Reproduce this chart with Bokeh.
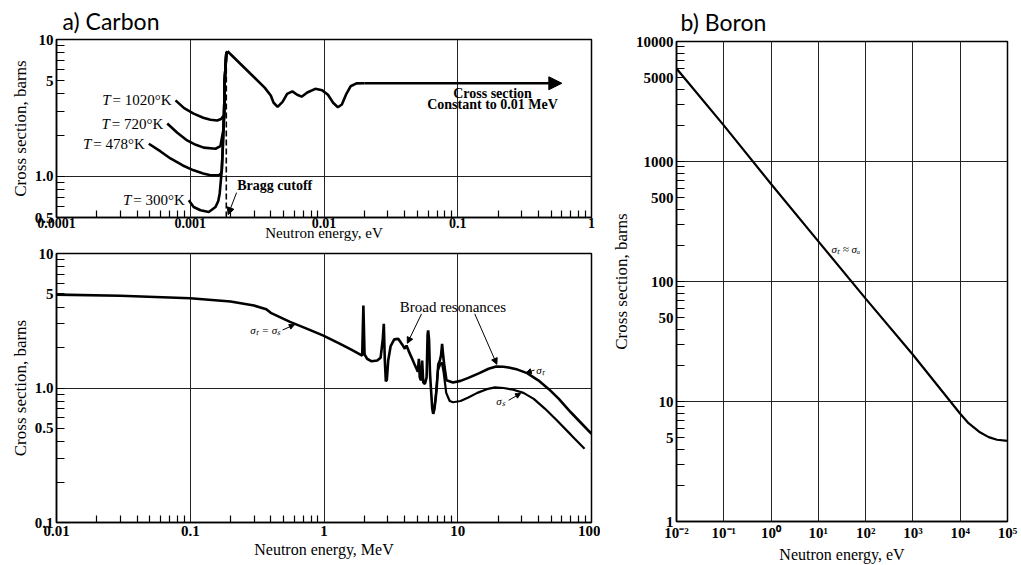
from bokeh.plotting import figure
from bokeh.models import Range1d, FixedTicker, Arrow, NormalHead
from bokeh.layouts import row, column
from bokeh.embed import file_html
from bokeh.resources import INLINE
from bokeh.core.properties import value

SERIF = "Liberation Serif"

# ---------------- Data: a) Carbon, thermal region (eV) ----------------
temp_labels = ["1020°K", "720°K", "478°K", "300°K"]
t1020_e = [0.000776, 0.00090, 0.00106, 0.00125, 0.001417, 0.00159, 0.00170]
t1020_s = [3.59, 3.15, 2.87, 2.68, 2.59, 2.56, 2.62]
t720_e = [0.000673, 0.00080, 0.000948, 0.00110, 0.00126, 0.001545, 0.00168]
t720_s = [2.43, 2.08, 1.83, 1.70, 1.62, 1.59, 1.66]
t478_e = [0.00049, 0.00060, 0.000711, 0.00088, 0.00106, 0.00125, 0.001417, 0.001635, 0.00170]
t478_s = [1.73, 1.52, 1.35, 1.20, 1.106, 1.05, 1.017, 1.017, 1.05]
t300_e = [0.000975, 0.00106, 0.001193, 0.001376, 0.001545, 0.00162]
t300_s = [0.668, 0.597, 0.565, 0.549, 0.597, 0.66]
rise_e = [0.00166, 0.00172, 0.00175, 0.00177, 0.00179, 0.00181, 0.00186, 0.0019]
rise_s = [0.75, 1.1, 1.6, 2.2, 2.8, 5.0, 7.9, 8.2]
main_e = [0.0019, 0.0036, 0.0040, 0.0042, 0.0045, 0.0049, 0.0053, 0.0058, 0.0063,
          0.0068, 0.0075, 0.0086, 0.0097, 0.0107, 0.0117, 0.0127, 0.0136, 0.0146,
          0.0158, 0.0175, 0.020, 0.60]
main_s = [8.2, 4.45, 3.9, 3.45, 3.22, 3.5, 4.0, 4.18, 3.95, 3.82, 4.1, 4.36, 4.25,
          3.95, 3.45, 3.2, 3.35, 3.95, 4.55, 4.78, 4.79, 4.79]
bragg_e = 0.00186
bragg_top = 7.6

# ---------------- Data: a) Carbon, fast region (MeV) ----------------
st_e = [0.01, 0.03, 0.1, 0.2, 0.3, 0.37, 0.40, 0.557, 0.75, 0.99, 1.32, 1.6, 1.93,
        1.97, 2.01, 2.1, 2.27, 2.5, 2.65, 2.75, 2.80, 2.85, 2.90, 2.95, 3.02, 3.15,
        3.35, 3.59, 3.85, 4.02, 4.14, 4.3, 4.51, 4.75, 4.92, 5.03, 5.12, 5.2, 5.3,
        5.42, 5.52, 5.68, 5.85, 5.95, 6.01, 6.1, 6.2, 6.3, 6.45, 6.55, 6.7, 6.94,
        7.15, 7.35, 7.5, 7.64, 7.8, 7.95, 8.24, 9.2, 10.5, 12.0, 14.5, 17.0, 19.4,
        22.0, 25.0, 28.0, 33.0, 40.0, 48.0, 57.0, 70.0, 85.0, 100.0]
st_s = [4.95, 4.85, 4.65, 4.4, 4.1, 3.85, 3.62, 3.1, 2.75, 2.45, 2.13, 1.93, 1.74,
        4.1, 1.78, 1.65, 1.58, 1.6, 1.68, 2.3, 3.0, 1.6, 1.12, 1.15, 1.6, 2.05,
        2.3, 2.32, 2.1, 1.96, 2.07, 1.88, 1.69, 1.5, 1.39, 1.32, 1.65, 1.2, 1.14,
        1.6, 1.1, 1.07, 1.2, 2.5, 2.68, 2.3, 1.3, 1.0, 0.7, 0.643, 0.7, 0.96,
        1.5, 1.6, 1.75, 2.13, 1.7, 1.45, 1.14, 1.10, 1.13, 1.19, 1.29, 1.39, 1.445,
        1.44, 1.41, 1.37, 1.29, 1.14, 0.98, 0.83, 0.66, 0.54, 0.456]
ss_e = [6.55, 6.8, 7.1, 7.4, 7.6, 7.85, 8.2, 8.7, 9.23, 10.5, 12.0, 14.0, 16.5,
        19.0, 22.0, 26.0, 31.0, 37.0, 45.0, 55.0, 70.0, 88.7]
ss_s = [0.643, 0.8, 1.35, 1.5, 1.55, 1.3, 0.92, 0.8, 0.784, 0.80, 0.85, 0.92,
        0.98, 1.01, 1.0, 0.97, 0.92, 0.83, 0.70, 0.575, 0.45, 0.353]

# ---------------- Data: b) Boron (eV) ----------------
boron_e = [0.01, 0.1, 1, 10, 100, 1000, 10000, 15000, 25000, 40000, 60000, 100000]
boron_s = [5950, 2000, 650, 216, 72, 24.5, 7.9, 6.6, 5.6, 5.05, 4.8, 4.7]

# ---------------- Axis ticks and labels ----------------
top_x_major = [0.0001, 0.001, 0.01, 0.1, 1]
top_x_labels = ["0.0001", "0.001", "0.01", "0.1", "1"]
top_y_major = [0.5, 1, 5, 10]
top_y_labels = ["0.5", "1.0", "5", "10"]
bot_x_major = [0.01, 0.1, 1, 10, 100]
bot_x_labels = ["0.01", "0.1", "1", "10", "100"]
bot_y_major = [0.1, 0.5, 1, 5, 10]
bot_y_labels = ["0.1", "0.5", "1.0", "5", "10"]
bor_x_major = [0.01, 0.1, 1, 10, 100, 1000, 10000, 100000]
bor_x_labels = ["10⁻²", "10⁻¹", "10⁰", "10¹", "10²", "10³", "10⁴", "10⁵"]
bor_y_major = [1, 5, 10, 50, 100, 500, 1000, 5000, 10000]
bor_y_labels = ["1", "5", "10", "50", "100", "500", "1000", "5000", "10000"]


def minors(lo_exp, hi_exp):
    return [m * 10.0 ** k for k in range(lo_exp, hi_exp) for m in range(2, 10)]


def style(p, xmaj, xlab, xmin, ymaj, ylab, ymin, xgrid, ygrid, xminor_len=7):
    p.outline_line_color = "black"
    p.outline_line_width = 1.5
    p.xaxis.ticker = FixedTicker(ticks=xmaj, minor_ticks=xmin)
    p.yaxis.ticker = FixedTicker(ticks=ymaj, minor_ticks=ymin)
    p.xaxis.major_label_overrides = dict(zip(xmaj, xlab))
    p.yaxis.major_label_overrides = dict(zip(ymaj, ylab))
    p.xgrid.ticker = FixedTicker(ticks=xgrid)
    p.ygrid.ticker = FixedTicker(ticks=ygrid)
    for g in (p.xgrid, p.ygrid):
        g.grid_line_color = "#222222"
        g.grid_line_width = 1
        g.grid_line_alpha = 1
    for ax in (p.xaxis, p.yaxis):
        ax.axis_line_color = "black"
        ax.axis_line_width = 1.5
        ax.major_tick_out = 0
        ax.minor_tick_out = 0
        ax.minor_tick_line_color = "black"
        ax.major_tick_line_color = "black"
        ax.minor_tick_line_width = 1.2
        ax.major_label_text_font = SERIF
        ax.major_label_text_font_size = "15px"
        ax.major_label_text_font_style = "bold"
        ax.major_label_text_color = "black"
        ax.axis_label_text_font = SERIF
        ax.axis_label_text_font_size = "16px"
        ax.axis_label_text_font_style = "normal"
        ax.axis_label_text_color = "black"
        ax.major_label_standoff = 3
        ax.axis_label_standoff = 2
    p.yaxis.axis_label_text_font_size = "17px"
    p.xaxis.major_tick_in = 0
    p.xaxis.minor_tick_in = xminor_len
    p.yaxis.major_tick_in = 8
    p.yaxis.minor_tick_in = 8
    p.title.text_font = "Lato"
    p.title.text_font_size = "23px"
    p.title.text_font_style = "normal"
    p.title.text_color = "black"
    p.title.align = "left"
    p.title.standoff = 9


# ---------------- Panel a) top ----------------
p1 = figure(width=600, height=243, x_axis_type="log", y_axis_type="log",
            x_range=Range1d(1e-4, 1), y_range=Range1d(0.5, 10),
            output_backend="svg", toolbar_location=None,
            min_border_left=56, min_border_right=9, min_border_top=39, min_border_bottom=26,
            title="a) Carbon")
style(p1, top_x_major, top_x_labels, minors(-4, 0), top_y_major, top_y_labels,
      [0.6, 0.7, 0.8, 0.9, 2, 3, 4, 6, 7, 8, 9], [0.001, 0.01, 0.1], [1])
p1.title.offset = 6
p1.yaxis.axis_label = "Cross section, barns"
p1.xaxis.axis_label = "Neutron energy, eV"
p1.xaxis.major_label_text_font_size = "14px"
p1.xaxis.axis_label_text_font_size = "15px"
p1.xaxis.major_label_standoff = 0
p1.xaxis.axis_label_standoff = -6

curves = [(t1020_e, t1020_s), (t720_e, t720_s), (t478_e, t478_s), (t300_e, t300_s)]
for (ce, cs) in curves:
    xs = list(ce) + [e for e, s in zip(rise_e, rise_s) if s > cs[-1]]
    ys = list(cs) + [s for s in rise_s if s > cs[-1]]
    p1.line(xs, ys, line_color="black", line_width=2.6)
p1.line(main_e[:-1], main_s[:-1], line_color="black", line_width=2.6)
p1.segment(x0=[bragg_e], y0=[0.5], x1=[bragg_e], y1=[bragg_top],
           line_color="black", line_width=1.6, line_dash="6 3")
p1.add_layout(Arrow(end=NormalHead(size=13, fill_color="black", line_color="black"),
                    x_start=main_e[-2], y_start=main_s[-2], x_end=main_e[-1], y_end=main_s[-1],
                    line_color="black", line_width=2.6))


def char_w(ch, size):
    table = {"=": 0.56, "°": 0.4, "K": 0.72, " ": 0.25}
    return table.get(ch, 0.5) * size


for (ce, cs), lab in zip(curves, temp_labels):
    rest = "= " + lab
    p1.text(x=[ce[0]], y=[cs[0]], text=[rest], x_offset=-4,
            text_font=value(SERIF), text_font_size="15px", text_align="right",
            text_baseline="middle", text_color="black")
    w = sum(char_w(c, 15) for c in rest)
    p1.text(x=[ce[0]], y=[cs[0]], text=["T"], x_offset=-6 - w,
            text_font=value(SERIF), text_font_size="15px", text_font_style="italic",
            text_align="right", text_baseline="middle", text_color="black")

p1.text(x=[0.002244], y=[0.86], text=["Bragg cutoff"], text_font=value(SERIF),
        text_font_size="14px", text_font_style="bold", text_align="left",
        text_baseline="middle", text_color="black")
p1.add_layout(Arrow(end=NormalHead(size=7, fill_color="black", line_color="black"),
                    x_start=0.00222, y_start=0.76, x_end=0.00192, y_end=0.525,
                    line_color="black", line_width=1))
p1.text(x=[0.182, 0.182], y=[4.02, 3.33], text=["Cross section", "Constant to 0.01 MeV"],
        text_font=value(SERIF), text_font_size="14px", text_font_style="bold",
        text_align="center", text_baseline="middle", text_color="black")

# ---------------- Panel a) bottom ----------------
p2 = figure(width=600, height=322, x_axis_type="log", y_axis_type="log",
            x_range=Range1d(0.01, 100), y_range=Range1d(0.1, 10),
            output_backend="svg", toolbar_location=None,
            min_border_left=56, min_border_right=8, min_border_top=10, min_border_bottom=43)
style(p2, bot_x_major, bot_x_labels, minors(-2, 2), bot_y_major, bot_y_labels,
      [0.2, 0.3, 0.4, 0.6, 0.7, 0.8, 0.9, 2, 3, 4, 6, 7, 8, 9], [0.1, 1, 10], [1])
p2.xaxis.axis_label = "Neutron energy, MeV"
p2.yaxis.axis_label = "Cross section, barns"
p2.line(st_e, st_s, line_color="black", line_width=2.6)
p2.line(ss_e, ss_s, line_color="black", line_width=2.2)

p2.text(x=[9.5], y=[3.99], text=["Broad  resonances"], text_font=value(SERIF),
        text_font_size="15px", text_align="center", text_baseline="middle",
        text_color="black")
for xs_, ys_, xe_, ye_ in [(5.36, 3.56, 4.2, 2.15), (13.4, 3.56, 19.6, 1.5)]:
    p2.add_layout(Arrow(end=NormalHead(size=6, fill_color="black", line_color="black"),
                        x_start=xs_, y_start=ys_, x_end=xe_, y_end=ye_,
                        line_color="black", line_width=1))
small = dict(text_font=value(SERIF), text_font_size="11px", text_font_style="italic",
             text_baseline="middle", text_color="black")
p2.text(x=[0.47], y=[2.68], text=["σₜ = σₛ"], text_align="right", **small)
p2.add_layout(Arrow(end=NormalHead(size=5, fill_color="black", line_color="black"),
                    x_start=0.49, y_start=2.7, x_end=0.6, y_end=2.95, line_color="black", line_width=1))
p2.text(x=[38.6], y=[1.37], text=["σₜ"], text_align="left", **small)
p2.add_layout(Arrow(end=NormalHead(size=5, fill_color="black", line_color="black"),
                    x_start=37.5, y_start=1.36, x_end=32.5, y_end=1.3, line_color="black", line_width=1))
p2.text(x=[19.4], y=[0.8], text=["σₛ"], text_align="left", **small)
p2.add_layout(Arrow(end=NormalHead(size=5, fill_color="black", line_color="black"),
                    x_start=24.0, y_start=0.81, x_end=29.5, y_end=0.91, line_color="black", line_width=1))

# ---------------- Panel b) Boron ----------------
p3 = figure(width=421, height=565, x_axis_type="log", y_axis_type="log",
            x_range=Range1d(0.01, 100000), y_range=Range1d(1, 10000),
            output_backend="svg", toolbar_location=None,
            min_border_left=76, min_border_right=14, min_border_top=41, min_border_bottom=43,
            title="b) Boron")
style(p3, bor_x_major, bor_x_labels, [], bor_y_major, bor_y_labels,
      [m * 10.0 ** k for k in range(0, 4) for m in (2, 3, 4, 6, 7, 8, 9)],
      [0.1, 1, 10, 100, 1000, 10000], [10, 100, 1000])
p3.title.offset = 4
p3.title.standoff = 11
p3.xaxis.axis_label = "Neutron energy, eV"
p3.yaxis.axis_label = "Cross section, barns"
p3.line(boron_e, boron_s, line_color="black", line_width=2.2)
p3.text(x=[19], y=[188], text=["σₜ ≈ σₐ"], text_align="left", **small)

layout = row(column(p1, p2), p3)
open("out.html", "w").write(file_html(layout, INLINE))
